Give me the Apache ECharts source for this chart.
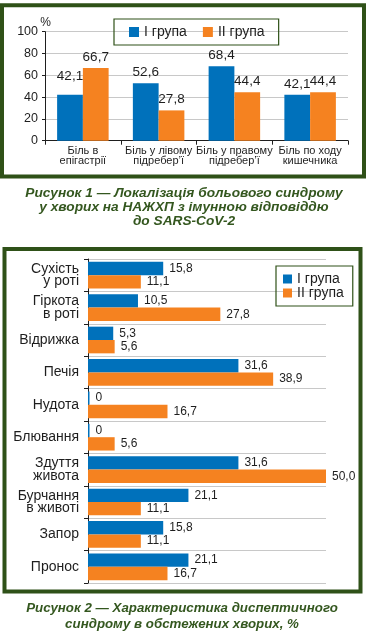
<!DOCTYPE html>
<html><head><meta charset="utf-8">
<script src="https://cdn.jsdelivr.net/npm/echarts@6/dist/echarts.min.js"></script>
<style>html,body{margin:0;padding:0;background:#fff}#c{width:367px;height:644px}</style>
</head><body><div id="c"></div>
<script>
// ---- data ----
const seriesNames = ["I група", "II група"];
const painCategories = ["Біль в\nепігастрії", "Біль у лівому\nпідребер’ї", "Біль у правому\nпідребер’ї", "Біль по ходу\nкишечника"];
const painGroup1 = [42.1, 52.6, 68.4, 42.1];
const painGroup2 = [66.7, 27.8, 44.4, 44.4];
const painTicks = [0, 20, 40, 60, 80, 100];
const dysCategories = ["Сухість\nу роті", "Гіркота\nв роті", "Відрижка", "Печія", "Нудота", "Блювання", "Здуття\nживота", "Бурчання\nв животі", "Запор", "Пронос"];
const dysGroup1 = [15.8, 10.5, 5.3, 31.6, 0, 0, 31.6, 21.1, 15.8, 21.1];
const dysGroup2 = [11.1, 27.8, 5.6, 38.9, 16.7, 5.6, 50.0, 11.1, 11.1, 16.7];
const dysAxisMax = 50;
const caption1 = ["Рисунок 1 — Локалізація больового синдрому", "у хворих на НАЖХП з імунною відповіддю", "до SARS-CoV-2"];
const caption2 = ["Рисунок 2 — Характеристика диспептичного", "синдрому в обстежених хворих, %"];
const unitLabel = "%";

// ---- style ----
const BLUE = '#0071bb', ORANGE = '#f58220', FRAME = '#2f5118', CAP = '#34571f', INK = '#1e1e1e', GRID = '#c8c8c8';
const FONT = '"Liberation Sans", Arial, Helvetica, sans-serif';
const fmt = v => v === 0 ? '0' : v.toFixed(1).replace('.', ',');

const chart = echarts.init(document.getElementById('c'), null, {renderer: 'canvas'});

const capText = (lines, x, y0, step, size) => lines.map((t, i) => ({
  type: 'text', silent: true,
  style: {text: t, x: x, y: y0 + i * step, align: 'center', verticalAlign: 'middle',
    fill: CAP, font: 'italic bold ' + size + 'px ' + FONT}
}));

const option = {
  animation: false,
  textStyle: {fontFamily: FONT},
  grid: [
    {left: 45, top: 31.7, width: 303, height: 109},
    {left: 88, top: 259, width: 238, height: 324}
  ],
  xAxis: [
    {type: 'category', gridIndex: 0, data: painCategories,
     axisLine: {lineStyle: {color: INK, width: 1}},
     axisTick: {show: true, length: 4, lineStyle: {color: INK}},
     axisLabel: {interval: 0, margin: 5, fontSize: 11, lineHeight: 10.5, color: INK}},
    {type: 'value', gridIndex: 1, min: 0, max: dysAxisMax, show: false}
  ],
  yAxis: [
    {type: 'value', gridIndex: 0, min: painTicks[0], max: painTicks[painTicks.length - 1], interval: painTicks[1] - painTicks[0],
     axisLine: {show: true, lineStyle: {color: INK}},
     axisTick: {show: true, length: 3, lineStyle: {color: INK}},
     axisLabel: {fontSize: 12.5, color: INK, margin: 7},
     splitLine: {show: true, lineStyle: {color: GRID, width: 1}}},
    {type: 'category', gridIndex: 1, data: dysCategories, inverse: true,
     axisLine: {lineStyle: {color: INK}},
     axisTick: {show: true, length: 4, lineStyle: {color: INK}},
     axisLabel: {interval: 0, fontSize: 14, lineHeight: 12.5, color: INK, margin: 9, align: 'right'},
     splitLine: {show: true, interval: 0, lineStyle: {color: GRID, width: 1}}}
  ],
  legend: [
    {data: seriesNames, left: 114, top: 19, orient: 'horizontal', icon: 'rect',
     itemWidth: 10, itemHeight: 10, itemGap: 16,
     padding: [6, 14, 6, 15], borderColor: FRAME, borderWidth: 1.2,
     textStyle: {fontSize: 14, color: INK}},
    {data: seriesNames, left: 276, top: 266, orient: 'vertical', icon: 'rect',
     itemWidth: 9, itemHeight: 9, itemGap: 0,
     padding: [6, 9, 6, 7], borderColor: FRAME, borderWidth: 1.2,
     textStyle: {fontSize: 14, lineHeight: 14, color: INK}}
  ],
  series: [
    {name: seriesNames[0], type: 'bar', xAxisIndex: 0, yAxisIndex: 0, barGap: '0%', barCategoryGap: '32%',
     itemStyle: {color: BLUE},
     data: painGroup1.map((v, i) => i === 0 ? {value: v, label: {distance: 12}} : v),
     label: {show: true, position: 'top', distance: 4, fontSize: 13.5, color: INK, formatter: p => fmt(p.value)}},
    {name: seriesNames[1], type: 'bar', xAxisIndex: 0, yAxisIndex: 0, barGap: '0%', barCategoryGap: '32%',
     itemStyle: {color: ORANGE}, data: painGroup2,
     label: {show: true, position: 'top', distance: 4, fontSize: 13.5, color: INK, formatter: p => fmt(p.value)}},
    {name: seriesNames[0], type: 'bar', xAxisIndex: 1, yAxisIndex: 1, barGap: '0%', barCategoryGap: '17.6%',
     barMinHeight: 1.5, itemStyle: {color: BLUE}, data: dysGroup1,
     label: {show: true, position: 'right', distance: 6, fontSize: 12, color: INK, formatter: p => fmt(p.value)}},
    {name: seriesNames[1], type: 'bar', xAxisIndex: 1, yAxisIndex: 1, barGap: '0%', barCategoryGap: '17.6%',
     barMinHeight: 1.5, itemStyle: {color: ORANGE}, data: dysGroup2,
     label: {show: true, position: 'right', distance: 6, fontSize: 12, color: INK, formatter: p => fmt(p.value)}}
  ],
  graphic: [
    {type: 'rect', silent: true, shape: {x: 2, y: 5.3, width: 362, height: 171.2},
     style: {fill: 'none', stroke: FRAME, lineWidth: 4}},
    {type: 'rect', silent: true, shape: {x: 4.5, y: 249, width: 356, height: 342.5},
     style: {fill: 'none', stroke: FRAME, lineWidth: 4}},
    {type: 'text', silent: true, style: {text: unitLabel, x: 45.5, y: 23, align: 'center', verticalAlign: 'middle',
     fill: INK, font: '12px ' + FONT}}
  ].concat(capText(caption1, 184, 192.8, 14, 13.7)).concat(capText(caption2, 182, 608, 16.5, 13.3))
};
chart.setOption(option);
</script>
</body></html>
